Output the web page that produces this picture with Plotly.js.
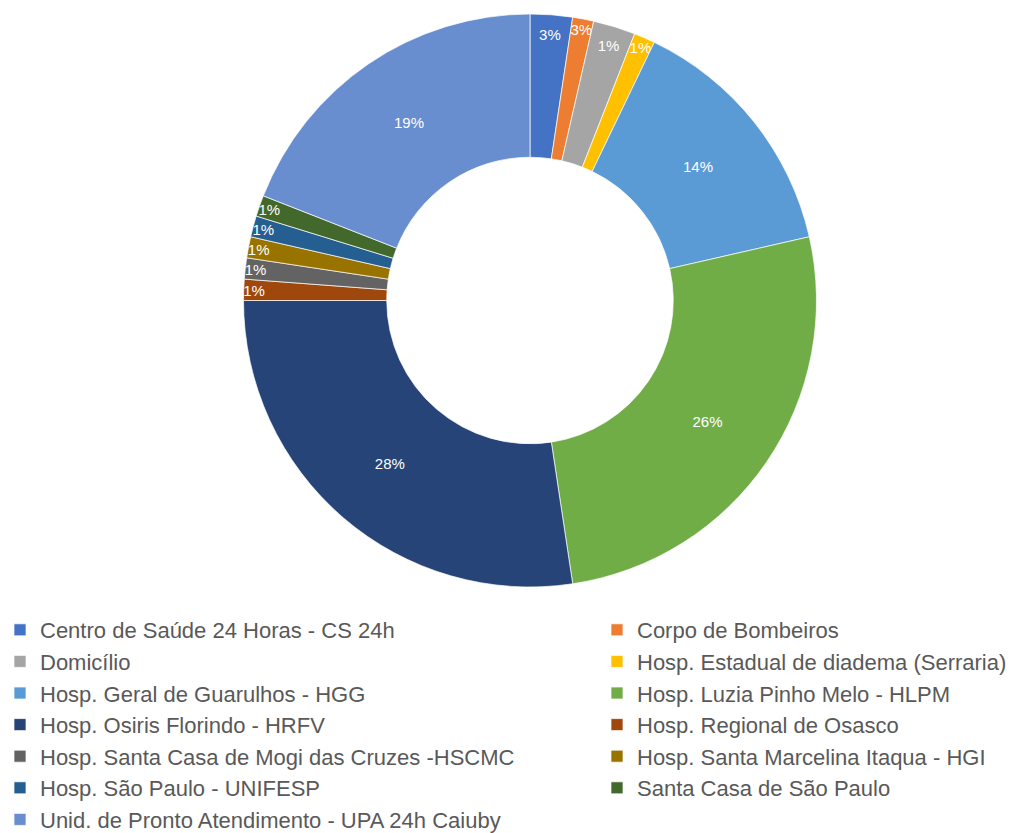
<!DOCTYPE html>
<html>
<head>
<meta charset="utf-8">
<script src="https://cdn.plot.ly/plotly-3.0.1.min.js"></script>
<style>
html,body{margin:0;padding:0;background:#fff;overflow:hidden;}
#wrap{width:1036px;height:833px;overflow:hidden;position:relative;}
#chart{width:1220px;height:833px;}
</style>
</head>
<body>
<div id="wrap"><div id="chart"></div></div>
<script>
const categories = [
  "Centro de Saúde 24 Horas - CS 24h",
  "Corpo de Bombeiros",
  "Domicílio",
  "Hosp. Estadual de diadema (Serraria)",
  "Hosp. Geral de Guarulhos - HGG",
  "Hosp. Luzia Pinho Melo - HLPM",
  "Hosp. Osiris Florindo - HRFV",
  "Hosp. Regional de Osasco",
  "Hosp. Santa Casa de Mogi das Cruzes -HSCMC",
  "Hosp. Santa Marcelina Itaqua - HGI",
  "Hosp. São Paulo - UNIFESP",
  "Santa Casa de São Paulo",
  "Unid. de Pronto Atendimento - UPA 24h Caiuby"
];
const values = [2, 1, 2, 1, 12, 22, 23, 1, 1, 1, 1, 1, 16];
const percentLabels = ["3%", "3%", "1%", "1%", "14%", "26%", "28%", "1%", "1%", "1%", "1%", "1%", "19%"];
const colors = ["#4472C4", "#ED7D31", "#A5A5A5", "#FFC000", "#5B9BD5", "#70AD47",
                "#264478", "#9E480E", "#636363", "#997300", "#255E91", "#43682B", "#698ED0"];

const W = 1220;
const trace = {
  type: "pie",
  labels: categories,
  values: values,
  text: percentLabels,
  textinfo: "text",
  textposition: "inside",
  insidetextorientation: "horizontal",
  textfont: {family: "Liberation Sans, Arial, sans-serif", size: 15, color: "#ffffff"},
  hole: 0.5,
  sort: false,
  direction: "clockwise",
  rotation: 0,
  marker: {colors: colors, line: {color: "#ffffff", width: 0.7}},
  domain: {x: [243 / W, 817 / W], y: [1 - 587 / 833, 1 - 14 / 833]},
  hoverinfo: "label+value+percent"
};

const layout = {
  width: W,
  height: 833,
  margin: {l: 0, r: 0, t: 0, b: 0, autoexpand: false},
  paper_bgcolor: "#ffffff",
  showlegend: true,
  uniformtext: {mode: "show", minsize: 15},
  legend: {
    orientation: "h",
    x: 0,
    xanchor: "left",
    y: 1 - 609 / 833,
    yanchor: "top",
    entrywidth: 552,
    entrywidthmode: "pixels",
    traceorder: "normal",
    font: {family: "Liberation Sans, Arial, sans-serif", size: 22, color: "#595959"},
    itemwidth: 30
  }
};

Plotly.newPlot("chart", [trace], layout, {displayModeBar: false, staticPlot: true});
</script>
</body>
</html>
